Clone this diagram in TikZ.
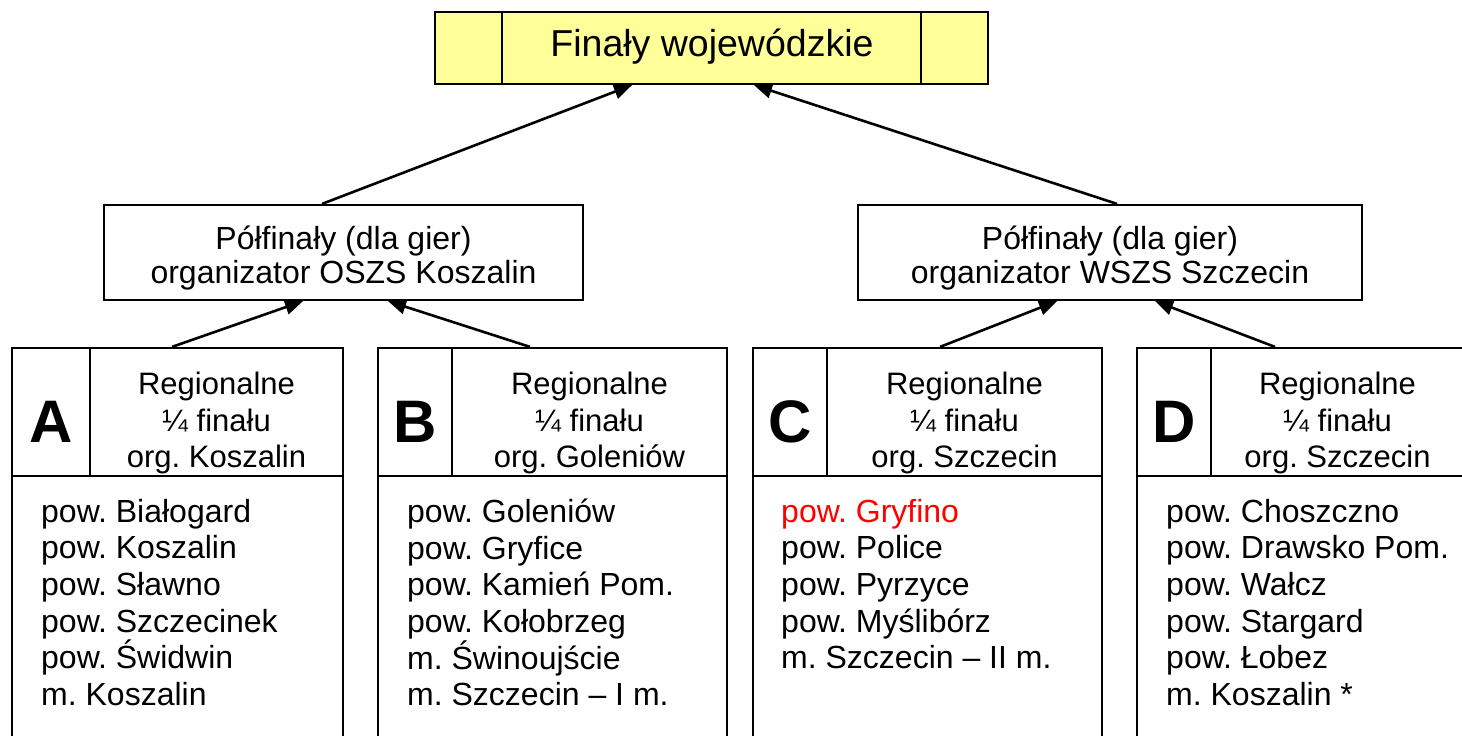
\documentclass[tikz,border=0pt]{standalone}
\usepackage{fontspec}
\setmainfont{Liberation Sans}
\usetikzlibrary{arrows.meta,calc}
\definecolor{finyellow}{HTML}{FFFF99}
\definecolor{redtxt}{HTML}{FF0000}
\frenchspacing
\tikzset{
  box/.style={draw=black,line width=2.2pt,inner sep=0pt},
  arr/.style={line width=2.6pt,-{Triangle[length=18pt,width=15pt]}},
  bodytxt/.style={font=\fontsize{32}{36.6}\selectfont,align=left,anchor=north west,inner sep=0pt},
  headtxt/.style={font=\fontsize{31}{36.6}\selectfont,align=center,inner sep=0pt},
  bigletter/.style={font=\fontsize{60}{60}\selectfont\bfseries,inner sep=0pt},
  divline/.style={line width=2.2pt}
}
\begin{document}
\begin{tikzpicture}[x=1pt,y=-1pt]
\clip (0,0) rectangle (1462,736);
\fill[white] (0,0) rectangle (1462,736);

% top box
\node[box,fill=finyellow,minimum width=553pt,minimum height=72pt] (fin) at (711.5,48) {};
\draw[divline] (502,12) -- (502,84);
\draw[divline] (921,12) -- (921,84);
\node[font=\fontsize{37.5}{40}\selectfont,inner sep=0pt] (fintxt) at (712,47) {Finały wojewódzkie};

% semifinals
\node[box,minimum width=479pt,minimum height=95pt] (sL) at (343.5,252.5) {};
\node[headtxt,font=\fontsize{32}{33.5}\selectfont] (sLt) at (343.5,258) {Półfinały (dla gier)\\organizator OSZS Koszalin};
\node[box,minimum width=504pt,minimum height=95pt] (sR) at (1110,252.5) {};
\node[headtxt,font=\fontsize{32}{33.5}\selectfont] (sRt) at (1110,258) {Półfinały (dla gier)\\organizator WSZS Szczecin};

% quarter finals: headers
\node[box,minimum width=331pt,minimum height=128pt] (qA) at (177.5,412) {};
\node[box,minimum width=349pt,minimum height=128pt] (qB) at (552.5,412) {};
\node[box,minimum width=349pt,minimum height=128pt] (qC) at (927.5,412) {};
\node[box,minimum width=327pt,minimum height=128pt] (qD) at (1300.5,412) {};

% bodies
\draw[divline] (12,476) -- (12,745) (343,476) -- (343,745);
\draw[divline] (378,476) -- (378,745) (727,476) -- (727,745);
\draw[divline] (753,476) -- (753,745) (1102,476) -- (1102,745);
\draw[divline] (1137,476) -- (1137,745) (1464,476) -- (1464,745);

% vertical dividers in headers
\draw[divline] (90,348) -- (90,476);
\draw[divline] (452,348) -- (452,476);
\draw[divline] (827,348) -- (827,476);
\draw[divline] (1211,348) -- (1211,476);

% letters
\node[bigletter] (lA) at (51,422) {A};
\node[bigletter] (lB) at (415,422) {B};
\node[bigletter] (lC) at (790,422) {C};
\node[bigletter] (lD) at (1174,422) {D};

% header texts
\node[headtxt] (hA) at (216.5,423) {Regionalne\\¼ finału\\org. Koszalin};
\node[headtxt] (hB) at (589.5,423) {Regionalne\\¼ finału\\org. Goleniów};
\node[headtxt] (hC) at (964.5,423) {Regionalne\\¼ finału\\org. Szczecin};
\node[headtxt] (hD) at (1337.5,423) {Regionalne\\¼ finału\\org. Szczecin};

% lists
\node[bodytxt] (tA) at (41,499) {pow. Białogard\\pow. Koszalin\\pow. Sławno\\pow. Szczecinek\\pow. Świdwin\\m. Koszalin};
\node[bodytxt] (tB) at (407,499) {pow. Goleniów\\pow. Gryfice\\pow. Kamień Pom.\\pow. Kołobrzeg\\m. Świnoujście\\m. Szczecin -- I m.};
\node[bodytxt] (tC) at (781,499) {\textcolor{redtxt}{pow. Gryfino}\\pow. Police\\pow. Pyrzyce\\pow. Myślibórz\\m. Szczecin -- II m.};
\node[bodytxt] (tD) at (1166,499) {pow. Choszczno\\pow. Drawsko Pom.\\pow. Wałcz\\pow. Stargard\\pow. Łobez\\m. Koszalin *};

% connectors
\draw[arr] ($(qA.north)+(-5.5,0)$) -- ($(sL.south)+(-40.5,0)$);
\draw[arr] ($(qB.north)+(-22.5,0)$) -- ($(sL.south)+(44.5,0)$);
\draw[arr] ($(qC.north)+(12.5,0)$) -- ($(sR.south)+(-53,0)$);
\draw[arr] ($(qD.north)+(-25.5,0)$) -- ($(sR.south)+(45,0)$);
\draw[arr] ($(sL.north)+(-21.5,0)$) -- ($(fin.south)+(-79.5,0)$);
\draw[arr] ($(sR.north)+(7,0)$) -- ($(fin.south)+(42.5,0)$);
\end{tikzpicture}
\end{document}
